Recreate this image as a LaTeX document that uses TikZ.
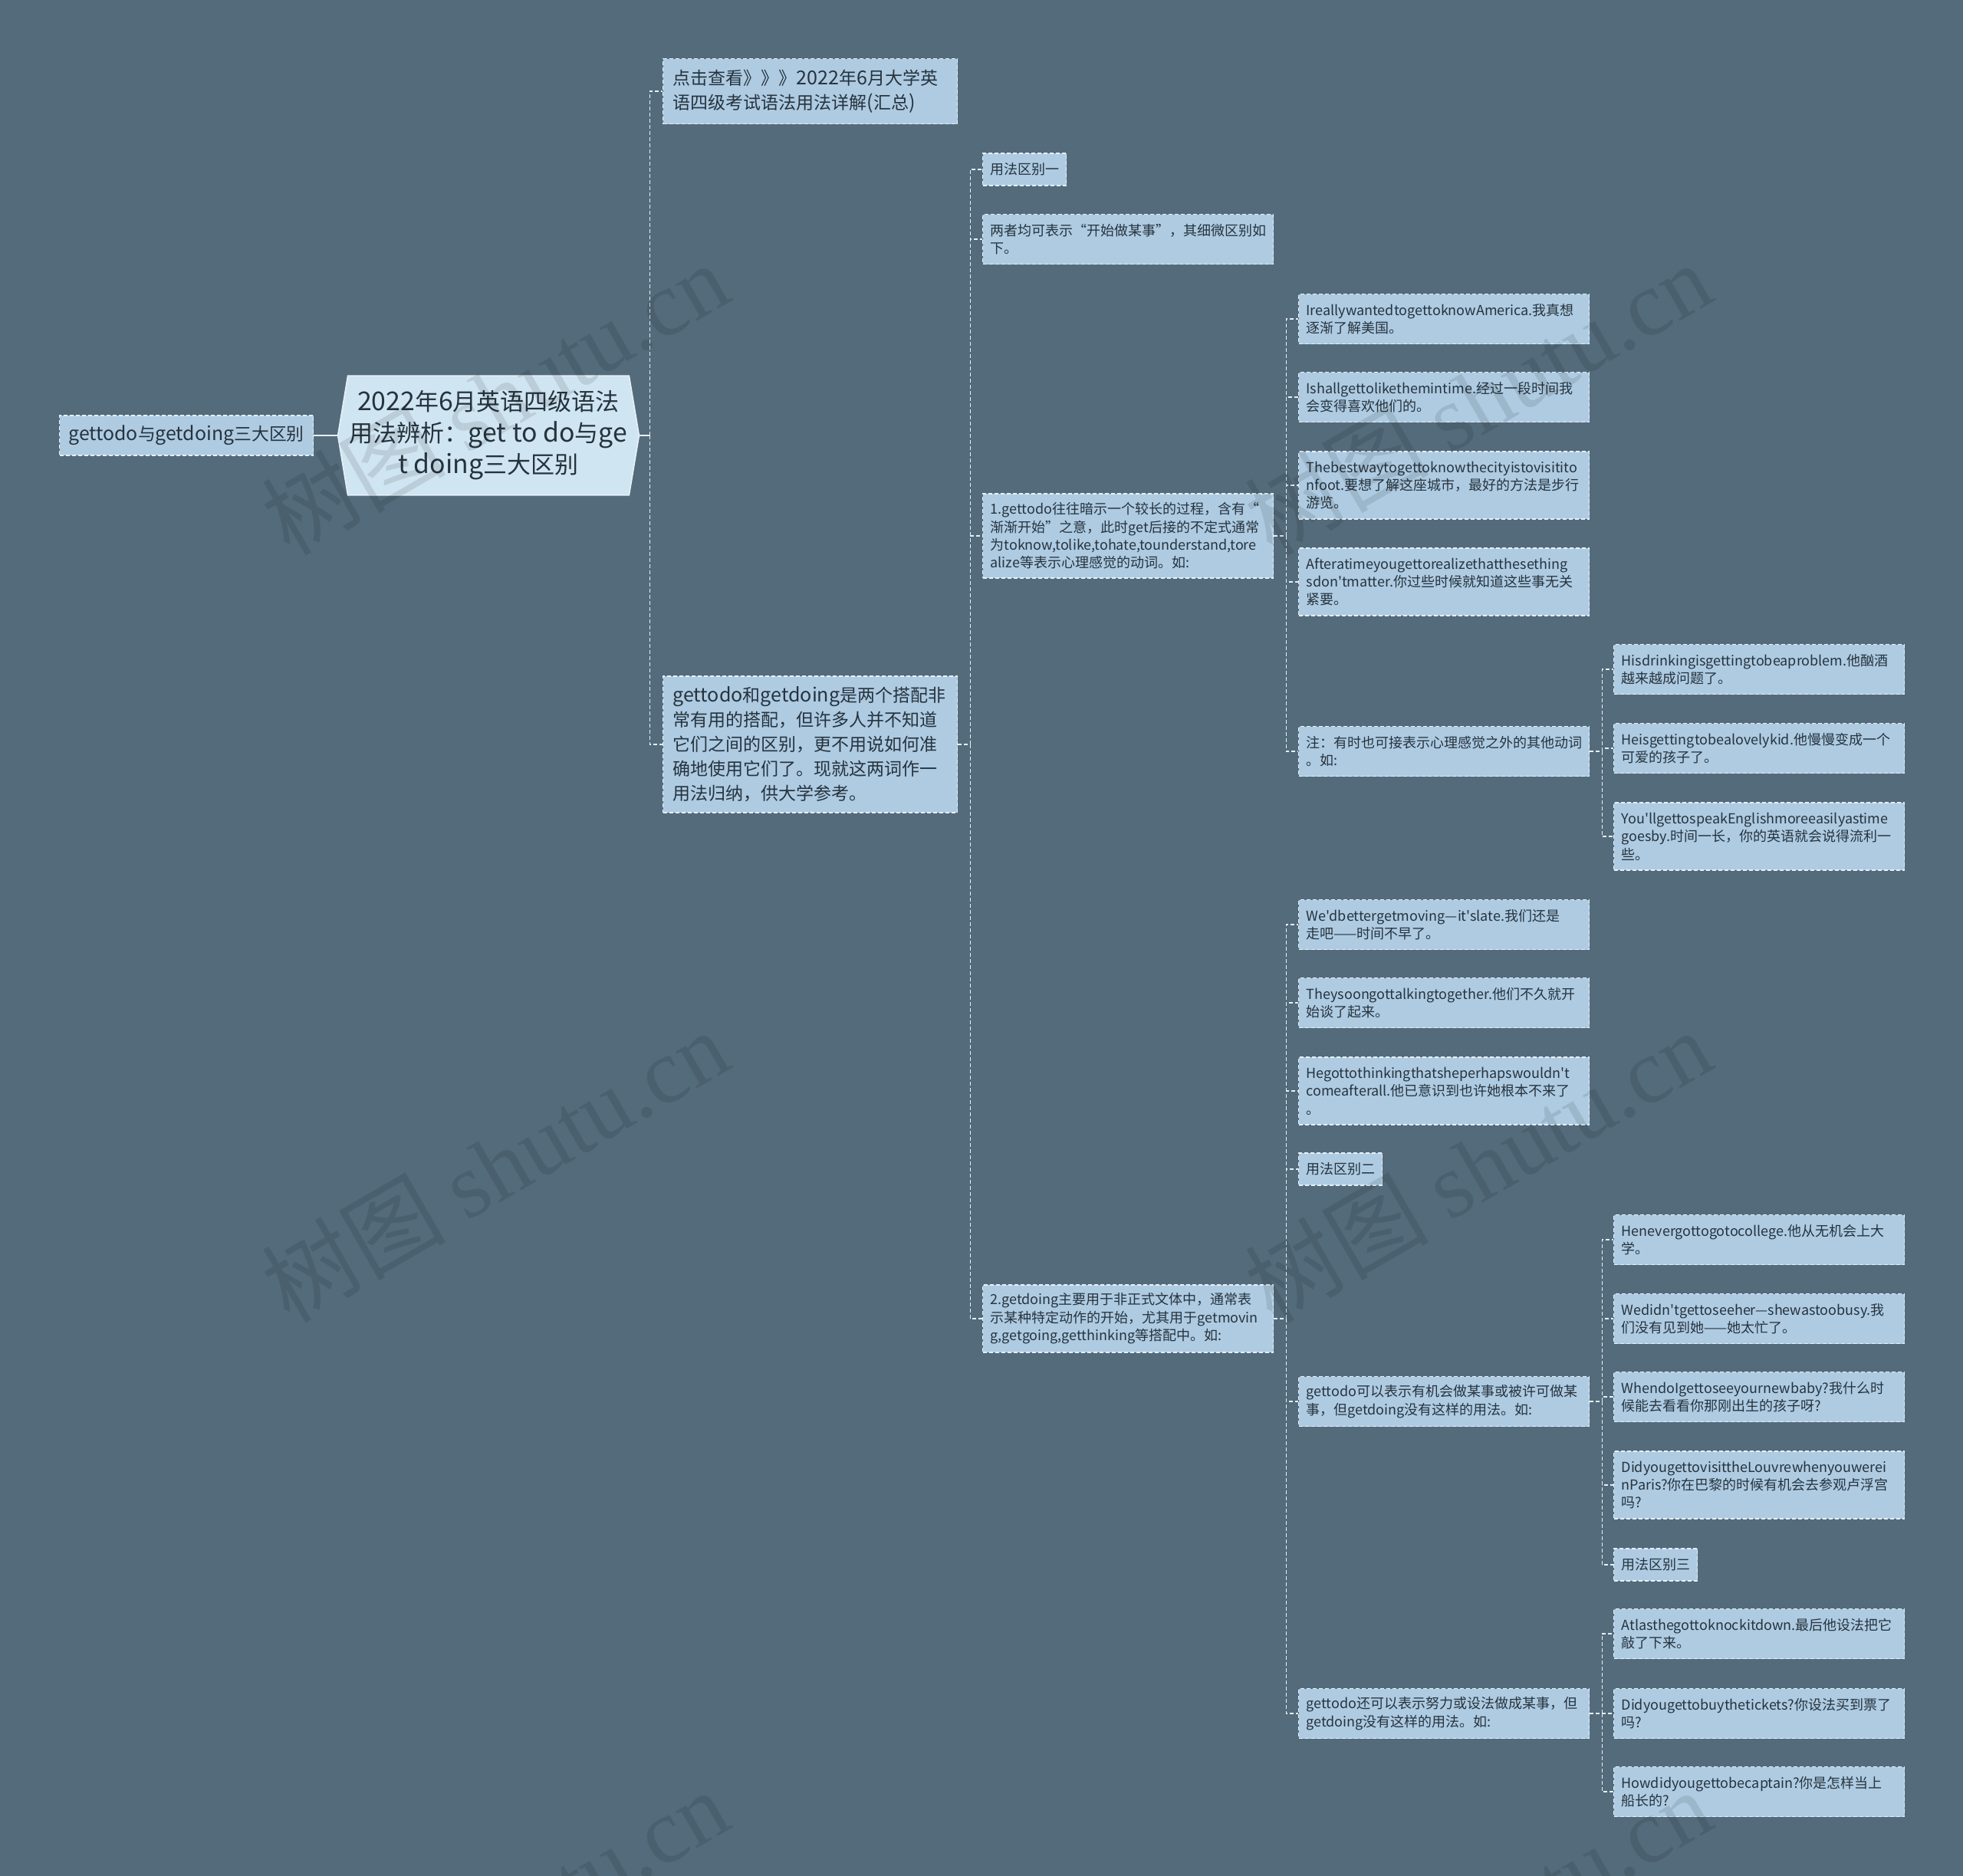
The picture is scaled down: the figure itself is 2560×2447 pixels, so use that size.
\documentclass[tikz,border=0pt]{standalone}
\usepackage{fontspec}
\newfontfamily\cjk{Noto Sans CJK SC}
\newfontfamily\lat{Noto Sans CJK SC}[Scale=1.09]
\newfontfamily\wmserif{Liberation Serif}
\let\latsw\lat
\newcommand\Lx[1]{{\latsw #1}}
\usetikzlibrary{backgrounds}
\definecolor{bgc}{HTML}{546B7B}
\definecolor{boxc}{HTML}{AECBE2}
\definecolor{rootc}{HTML}{D0E5F2}
\definecolor{textc}{HTML}{26333D}
\definecolor{linec}{HTML}{E6F0F7}
\tikzset{
  bx/.style={draw=linec, line width=0.6pt, dash pattern=on 2.5pt off 1.5pt, fill=boxc, text=textc,
    font=\let\latsw\relax\cjk\fontsize{9}{11.7}\selectfont, align=left, anchor=west, inner xsep=5pt, inner ysep=0pt},
  wide/.style={bx, text width=179.5pt},
  tag/.style={bx, minimum width=54.5pt, minimum height=21pt, align=center, inner xsep=0pt},
  mid/.style={bx, text width=179pt, inner xsep=6.5pt, font=\let\latsw\lat\cjk\fontsize{11.5}{16}\selectfont},
  hA/.style={minimum height=32.5pt},
  hB/.style={minimum height=44pt},
  hC/.style={minimum height=55pt},
  ln/.style={draw=linec, line width=0.6pt, dash pattern=on 2.5pt off 1.5pt},
  solidln/.style={draw=linec, line width=1.1pt},
  rootbox/.style={minimum width=196pt, minimum height=77.5pt, align=center, inner sep=0pt,
    font=\let\latsw\lat\cjk\fontsize{15.5}{20.5}\selectfont, text=textc},
  wm/.style={rotate=30, text=black, text opacity=0.1, font=\cjk\fontsize{60}{60}\selectfont}
}
\begin{document}
\begin{tikzpicture}[x=0.5pt,y=-0.5pt]
\useasboundingbox (0,0) rectangle (2560,2447);
\begin{scope}[on background layer]
\fill[bgc] (0,0) rectangle (2560,2447);
\end{scope}
\clip (0,0) rectangle (2560,2447);

% root and left
\node[rootbox] (root) at (637,568) {\Lx{2022}年\Lx{6}月英语四级语法\\用法辨析：\Lx{get to do}与\Lx{ge}\\\Lx{t doing}三大区别};
\begin{scope}[on background layer]
\filldraw[fill=rootc, draw=linec, line width=0.8pt] ([xshift=6.5pt]root.north west) -- ([xshift=-6.5pt]root.north east) -- (root.east) -- ([xshift=-6.5pt]root.south east) -- ([xshift=6.5pt]root.south west) -- (root.west) -- cycle;
\end{scope}
\node[bx, minimum width=165.5pt, minimum height=26pt, align=center, inner xsep=0pt, font=\let\latsw\lat\cjk\fontsize{11.4}{15}\selectfont] (L) at (77,568) {\Lx{gettodo}与\Lx{getdoing}三大区别};

% level 1
\node[mid, minimum height=42.5pt] (A) at (864,119) {点击查看》》》\Lx{2022}年\Lx{6}月大学英\\语四级考试语法用法详解\Lx{(}汇总\Lx{)}};
\node[mid, minimum height=89pt] (B) at (864,971) {\Lx{gettodo}和\Lx{getdoing}是两个搭配非\\常有用的搭配，但许多人并不知道\\它们之间的区别，更不用说如何准\\确地使用它们了。现就这两词作一\\用法归纳，供大学参考。};

% level 2
\node[tag] (C1) at (1281,221) {用法区别一};
\node[wide, hA] (C2) at (1281,312) {两者均可表示“开始做某事”，其细微区别如\\下。};
\node[wide, hC] (C3) at (1281,699) {\Lx{1.gettodo}往往暗示一个较长的过程，含有“\\渐渐开始”之意，此时\Lx{get}后接的不定式通常\\为\Lx{toknow,tolike,tohate,tounderstand,tore}\\\Lx{alize}等表示心理感觉的动词。如\Lx{:}};
\node[wide, hB] (C4) at (1281,1720) {\Lx{2.getdoing}主要用于非正式文体中，通常表\\示某种特定动作的开始，尤其用于\Lx{getmovin}\\\Lx{g,getgoing,getthinking}等搭配中。如\Lx{:}};

% level 3 under C3
\node[wide, hA] (D1) at (1693,416) {\Lx{IreallywantedtogettoknowAmerica.}我真想\\逐渐了解美国。};
\node[wide, hA] (D2) at (1693,518) {\Lx{Ishallgettolikethemintime.}经过一段时间我\\会变得喜欢他们的。};
\node[wide, hB] (D3) at (1693,633) {\Lx{Thebestwaytogettoknowthecityistovisitito}\\\Lx{nfoot.}要想了解这座城市，最好的方法是步行\\游览。};
\node[wide, hB] (D4) at (1693,759) {\Lx{Afteratimeyougettorealizethatthesething}\\\Lx{sdon'tmatter.}你过些时候就知道这些事无关\\紧要。};
\node[wide, hA] (D5) at (1693,980) {注：有时也可接表示心理感觉之外的其他动词\\。如\Lx{:}};

% level 4 under D5
\node[wide, hA] (E1) at (2104,873) {\Lx{Hisdrinkingisgettingtobeaproblem.}他酗酒\\越来越成问题了。};
\node[wide, hA] (E2) at (2104,976) {\Lx{Heisgettingtobealovelykid.}他慢慢变成一个\\可爱的孩子了。};
\node[wide, hB] (E3) at (2104,1091) {\Lx{You'llgettospeakEnglishmoreeasilyastime}\\\Lx{goesby.}时间一长，你的英语就会说得流利一\\些。};

% level 3 under C4
\node[wide, hA] (F1) at (1693,1206) {\Lx{We'dbettergetmoving—it'slate.}我们还是\\走吧——时间不早了。};
\node[wide, hA] (F2) at (1693,1308) {\Lx{Theysoongottalkingtogether.}他们不久就开\\始谈了起来。};
\node[wide, hB] (F3) at (1693,1423) {\Lx{Hegottothinkingthatsheperhapswouldn't}\\\Lx{comeafterall.}他已意识到也许她根本不来了\\。};
\node[tag] (F4) at (1693,1525) {用法区别二};
\node[wide, hA] (F5) at (1693,1828) {\Lx{gettodo}可以表示有机会做某事或被许可做某\\事，但\Lx{getdoing}没有这样的用法。如\Lx{:}};
\node[wide, hA] (F6) at (1693,2235) {\Lx{gettodo}还可以表示努力或设法做成某事，但\\\Lx{getdoing}没有这样的用法。如\Lx{:}};

% level 4 under F5
\node[wide, hA] (G1) at (2104,1617) {\Lx{Henevergottogotocollege.}他从无机会上大\\学。};
\node[wide, hA] (G2) at (2104,1720) {\Lx{Wedidn'tgettoseeher—shewastoobusy.}我\\们没有见到她——她太忙了。};
\node[wide, hA] (G3) at (2104,1822) {\Lx{WhendoIgettoseeyournewbaby?}我什么时\\候能去看看你那刚出生的孩子呀\Lx{?}};
\node[wide, hB] (G4) at (2104,1937) {\Lx{DidyougettovisittheLouvrewhenyouwerei}\\\Lx{nParis?}你在巴黎的时候有机会去参观卢浮宫\\吗\Lx{?}};
\node[tag] (G5) at (2104,2041) {用法区别三};

% level 4 under F6
\node[wide, hA] (H1) at (2104,2131) {\Lx{Atlasthegottoknockitdown.}最后他设法把它\\敲了下来。};
\node[wide, hA] (H2) at (2104,2235) {\Lx{Didyougettobuythetickets?}你设法买到票了\\吗\Lx{?}};
\node[wide, hA] (H3) at (2104,2337) {\Lx{Howdidyougettobecaptain?}你是怎样当上\\船长的\Lx{?}};

% connectors
\draw[solidln] (L.east) -- (root.west);
\draw[solidln] (root.east) -- ++(14,0) coordinate (rs);
\draw[ln] (rs) |- (A.west);
\draw[ln] (rs) |- (B.west);
\foreach \c in {C1,C2,C3,C4} \draw[ln] (B.east) -- ++(16,0) |- (\c.west);
\foreach \c in {D1,D2,D3,D4,D5} \draw[ln] (C3.east) -- ++(16,0) |- (\c.west);
\foreach \c in {E1,E2,E3} \draw[ln] (D5.east) -- ++(16,0) |- (\c.west);
\foreach \c in {F1,F2,F3,F4,F5,F6} \draw[ln] (C4.east) -- ++(16,0) |- (\c.west);
\foreach \c in {G1,G2,G3,G4,G5} \draw[ln] (F5.east) -- ++(16,0) |- (\c.west);
\foreach \c in {H1,H2,H3} \draw[ln] (F6.east) -- ++(16,0) |- (\c.west);

% watermarks
\foreach \p/\n in {{(645,519)}/w1,{(645,1520)}/w2,{(645,2511)}/w3,{(1927,519)}/w4,{(1927,1520)}/w5,{(1927,2511)}/w6}
  \node[wm] (\n) at \p {树图 {\wmserif shutu.cn}};
\end{tikzpicture}
\end{document}
